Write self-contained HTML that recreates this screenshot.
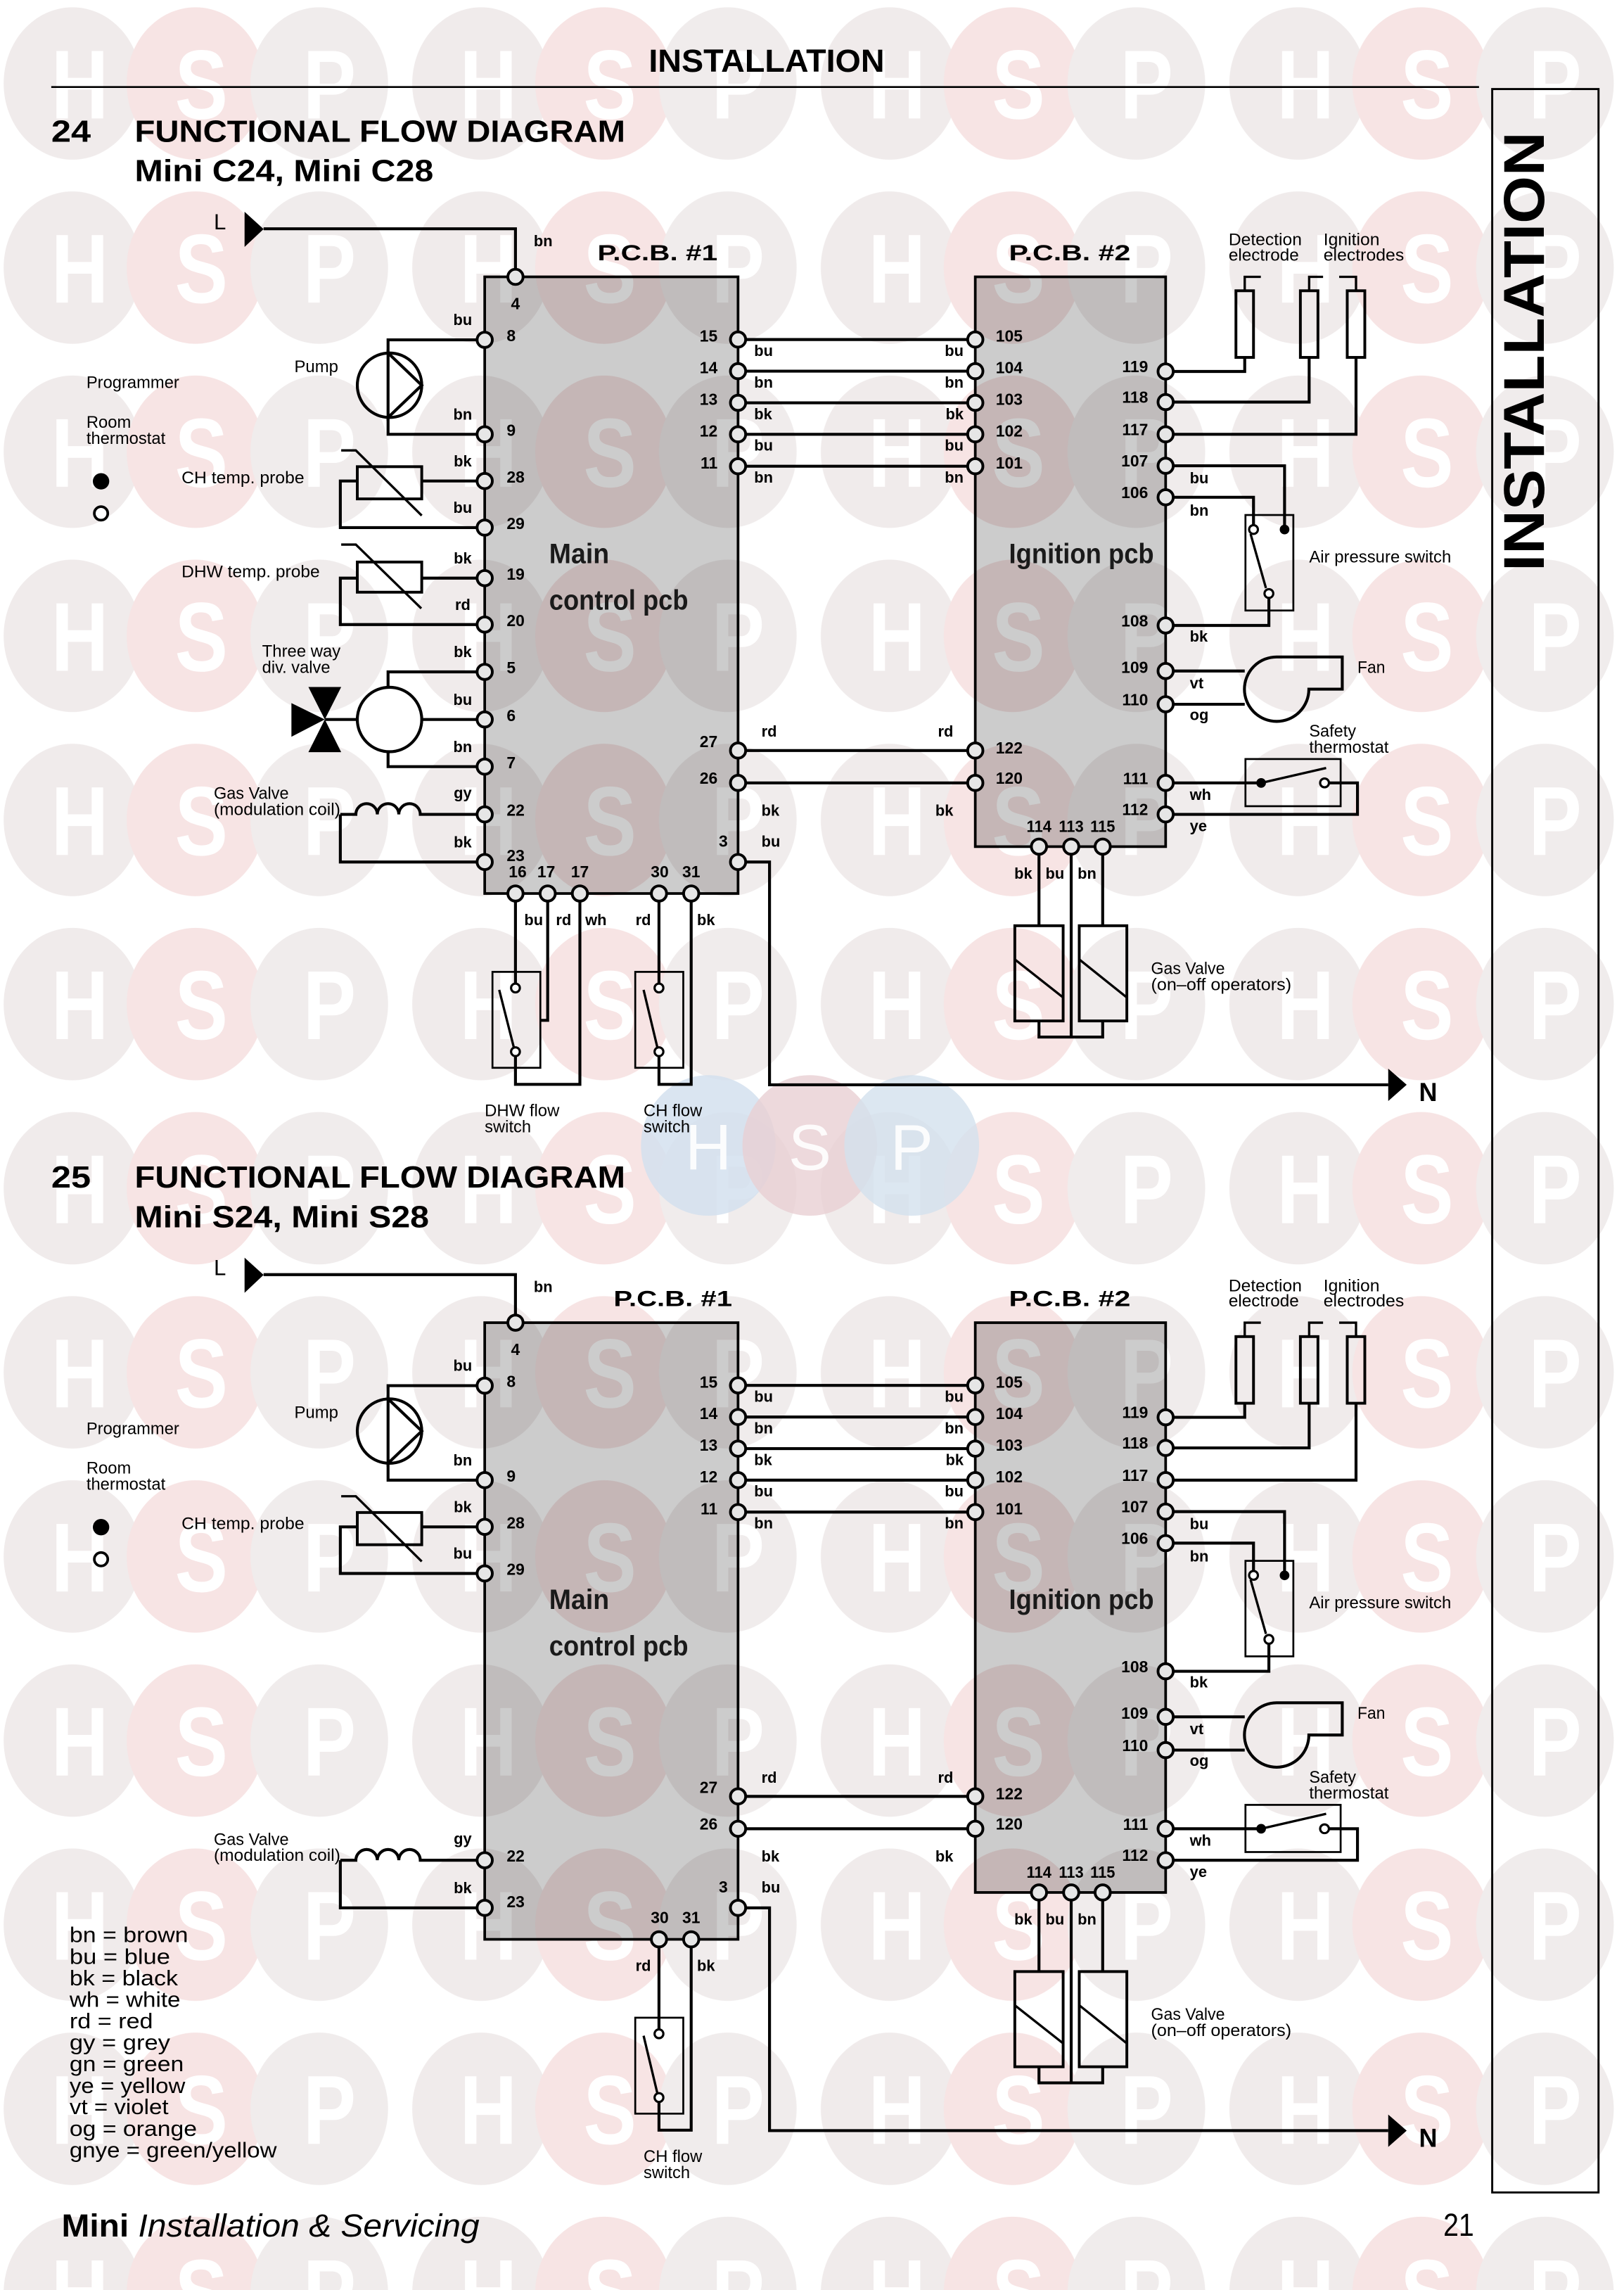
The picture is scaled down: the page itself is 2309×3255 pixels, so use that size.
<!DOCTYPE html>
<html><head><meta charset="utf-8"><title>Functional Flow Diagram</title>
<style>
html,body{margin:0;padding:0;background:#fff}
svg{display:block}
text{font-family:"Liberation Sans",Arial,sans-serif}
.ti{font-size:21px;font-weight:700}
.pc{font-size:15.3px;font-weight:700}
.lb{font-size:10.5px;font-weight:700}
.nm{font-size:11px;font-weight:700}
.ds{font-size:11.5px}
.big{font-size:19px;font-weight:700;fill:#1a1a1a}
.L{font-size:15px}
.N{font-size:18px;font-weight:700}
.lg{font-size:14.7px}
.e{text-anchor:end}.m{text-anchor:middle}
.w{fill:none;stroke:#000;stroke-width:2}
.th{fill:none;stroke:#000;stroke-width:1.6}
.b2{fill:none;stroke:#000;stroke-width:1.9}
.b1{fill:none;stroke:#000;stroke-width:1.3}
.ct{fill:#fff;stroke:#000;stroke-width:1.5}
.tm{fill:#e6e6e6;stroke:#000;stroke-width:1.9}
.pcb{fill:#000;fill-opacity:.2;stroke:#000;stroke-width:1.8}
</style></head>
<body>
<svg xmlns="http://www.w3.org/2000/svg" width="2309" height="3255" viewBox="0 0 1109 1563.4" preserveAspectRatio="none">
<defs>
<pattern id="wm" x="0" y="0" width="279" height="125.7" patternUnits="userSpaceOnUse">
<ellipse cx="49.5" cy="57" rx="47" ry="52" fill="#f0ebeb"/>
<ellipse cx="133.5" cy="57" rx="47" ry="52" fill="#f7e4e4"/>
<ellipse cx="218" cy="57" rx="47" ry="52" fill="#f0ecec"/>
</pattern>
</defs>
<rect width="1109" height="1563.4" fill="#fff"/>
<rect width="1109" height="1563.4" fill="url(#wm)"/>
<g transform="scale(0.81 1)" font-size="67" font-weight="700" fill="#fff" text-anchor="middle">
<text x="67.28 169.75 277.78 411.72 514.19 622.22 756.16 858.63 966.66 1100.6 1203.07 1311.1" y="80.9">HSPHSPHSPHSP</text>
<text x="67.28 169.75 277.78 411.72 514.19 622.22 756.16 858.63 966.66 1100.6 1203.07 1311.1" y="206.6">HSPHSPHSPHSP</text>
<text x="67.28 169.75 277.78 411.72 514.19 622.22 756.16 858.63 966.66 1100.6 1203.07 1311.1" y="332.3">HSPHSPHSPHSP</text>
<text x="67.28 169.75 277.78 411.72 514.19 622.22 756.16 858.63 966.66 1100.6 1203.07 1311.1" y="458">HSPHSPHSPHSP</text>
<text x="67.28 169.75 277.78 411.72 514.19 622.22 756.16 858.63 966.66 1100.6 1203.07 1311.1" y="583.7">HSPHSPHSPHSP</text>
<text x="67.28 169.75 277.78 411.72 514.19 622.22 756.16 858.63 966.66 1100.6 1203.07 1311.1" y="709.4">HSPHSPHSPHSP</text>
<text x="67.28 169.75 277.78 411.72 514.19 622.22 756.16 858.63 966.66 1100.6 1203.07 1311.1" y="835.1">HSPHSPHSPHSP</text>
<text x="67.28 169.75 277.78 411.72 514.19 622.22 756.16 858.63 966.66 1100.6 1203.07 1311.1" y="960.8">HSPHSPHSPHSP</text>
<text x="67.28 169.75 277.78 411.72 514.19 622.22 756.16 858.63 966.66 1100.6 1203.07 1311.1" y="1086.5">HSPHSPHSPHSP</text>
<text x="67.28 169.75 277.78 411.72 514.19 622.22 756.16 858.63 966.66 1100.6 1203.07 1311.1" y="1212.2">HSPHSPHSPHSP</text>
<text x="67.28 169.75 277.78 411.72 514.19 622.22 756.16 858.63 966.66 1100.6 1203.07 1311.1" y="1337.9">HSPHSPHSPHSP</text>
<text x="67.28 169.75 277.78 411.72 514.19 622.22 756.16 858.63 966.66 1100.6 1203.07 1311.1" y="1463.6">HSPHSPHSPHSP</text>
<text x="67.28 169.75 277.78 411.72 514.19 622.22 756.16 858.63 966.66 1100.6 1203.07 1311.1" y="1589.3">HSPHSPHSPHSP</text>
</g>
<!-- blue logo -->
<ellipse cx="483.7" cy="782" rx="46" ry="48" fill="#d3e1ee" opacity="0.85"/>
<ellipse cx="553" cy="782" rx="46" ry="48" fill="#e8cfd3" opacity="0.8"/>
<ellipse cx="622.6" cy="782" rx="46" ry="48" fill="#d3e1ee" opacity="0.8"/>
<text x="483.7 553 622.6" y="798.5" font-size="44" fill="#fff" text-anchor="middle" opacity="0.9">HSP</text>

<!-- header -->
<text x="443" y="49" font-size="22" font-weight="700" textLength="161" lengthAdjust="spacingAndGlyphs">INSTALLATION</text>
<path d="M35 59.4H1010" stroke="#000" stroke-width="1.3"/>
<rect x="1019" y="60.8" width="72.6" height="1436" fill="none" stroke="#000" stroke-width="1.4"/>
<text transform="translate(1054.3 390) rotate(-90)" font-size="39" font-weight="700" textLength="300" lengthAdjust="spacingAndGlyphs">INSTALLATION</text>

<!-- ================= DIAGRAM 1 ================= -->
<g>
<text class="ti" x="35" y="96.8" textLength="27" lengthAdjust="spacingAndGlyphs">24</text>
<text class="ti" x="92" y="96.8" textLength="335" lengthAdjust="spacingAndGlyphs">FUNCTIONAL FLOW DIAGRAM</text>
<text class="ti" x="92" y="123.8" textLength="204" lengthAdjust="spacingAndGlyphs">Mini C24, Mini C28</text>
<text class="pc" x="408" y="177.7" textLength="82" lengthAdjust="spacingAndGlyphs">P.C.B. #1</text>

<text x="146" y="156.6" class="L">L</text>
<polygon points="167,144.6 167,168.6 180,156.4"/>
<text class="lb" x="364.5" y="168">bn</text>
<rect class="pcb" x="331" y="189" width="173" height="421"/>
<rect class="pcb" x="666" y="189" width="130" height="389"/>
<text class="pc" x="689" y="177.7" textLength="83" lengthAdjust="spacingAndGlyphs">P.C.B. #2</text>
<text class="big" x="375" y="384.5" textLength="41" lengthAdjust="spacingAndGlyphs">Main</text>
<text class="big" x="375" y="416.2" textLength="95" lengthAdjust="spacingAndGlyphs">control pcb</text>
<text class="big" x="689" y="384.5" textLength="99" lengthAdjust="spacingAndGlyphs">Ignition pcb</text>
<path class="w" d="M180 156.2H352V189M331 232H265V241M265 285V296.5H331M331 328.4H288M244 328.4H232.4V360.2H331M232.4 556H243a7.33 7.33 0 0 1 14.67 0a7.33 7.33 0 0 1 14.67 0a7.33 7.33 0 0 1 14.67 0H331M232.4 556V588.5H331M504 231.8H666M504 253.4H666M504 275H666M504 296.5H666M504 318.3H666M504 512.4H666M504 534.5H666M504 588.5H525.5V740.6H948M850 244V253.6H796M894 244V274.5H796M926 244V296.5H796M796 318H877.2V361.5M796 339.5H856V358.5M866.5 408.3V427H796M796 458.1H850M796 480.8H850M796 534.5H861M907.5 534.5H927V556H796M709.5 578V632M753 578V632M731.5 578V708M709.5 697V708H753V697M450 610V671.5M450 721V740.3H472V610"/>
<path class="w" d="M265 241L288 263L265 285Z"/>
<circle class="w" cx="266" cy="263" r="22"/>
<path class="w" d="M871.8 448.5H916.6V470.5H893.8A22 22 0 1 1 871.8 448.5"/>
<polygon points="948,729.6 948,751.7 960.6,740.6"/>
<text class="N" x="969" y="751.7" textLength="12.5" lengthAdjust="spacingAndGlyphs">N</text>
<path class="th" d="M233 307.5H243L288 352M850 198.5V189H861M894 198.5V189H903.5M914.5 189H926V198.5M854 364.5L864.5 401.5M861.2 534.5L905.6 524.3M439.5 675.8L449 715.5M693 655L726 681M737 655L769.5 681"/>
<rect class="b2" x="244" y="318.6" width="44" height="22"/>
<rect class="b2" x="844" y="198.5" width="12" height="45.5"/>
<rect class="b2" x="888" y="198.5" width="12" height="45.5"/>
<rect class="b2" x="920" y="198.5" width="12" height="45.5"/>
<rect class="b2" x="693" y="632" width="33" height="65"/>
<rect class="b2" x="737" y="632" width="32.5" height="65"/>
<rect class="b1" x="850.5" y="351.6" width="32.7" height="65.2"/>
<rect class="b1" x="850.5" y="518.2" width="65" height="32.2"/>
<rect class="b1" x="433.8" y="663.5" width="32.8" height="65.5"/>
<circle class="ct" cx="856" cy="361.5" r="3"/>
<circle cx="877.2" cy="361.5" r="3.3"/>
<circle class="ct" cx="866.5" cy="405.2" r="3"/>
<circle cx="861.2" cy="534.5" r="3.3"/>
<circle class="ct" cx="904.5" cy="534.5" r="3"/>
<circle class="ct" cx="450" cy="674.5" r="3"/>
<circle class="ct" cx="450" cy="718" r="3"/>
<circle cx="69" cy="328.6" r="5.6"/>
<circle cx="69" cy="350.5" r="4.6" fill="#fff" stroke="#000" stroke-width="1.8"/>
<g class="tm">
<circle cx="352" cy="189" r="5.2"/>
<circle cx="331" cy="232" r="5.2"/><circle cx="331" cy="296.5" r="5.2"/><circle cx="331" cy="328.4" r="5.2"/><circle cx="331" cy="360.2" r="5.2"/><circle cx="331" cy="556" r="5.2"/><circle cx="331" cy="588.5" r="5.2"/>
<circle cx="504" cy="231.8" r="5.2"/><circle cx="504" cy="253.4" r="5.2"/><circle cx="504" cy="275" r="5.2"/><circle cx="504" cy="296.5" r="5.2"/><circle cx="504" cy="318.3" r="5.2"/><circle cx="504" cy="512.4" r="5.2"/><circle cx="504" cy="534.5" r="5.2"/><circle cx="504" cy="588.5" r="5.2"/>
<circle cx="666" cy="231.8" r="5.2"/><circle cx="666" cy="253.4" r="5.2"/><circle cx="666" cy="275" r="5.2"/><circle cx="666" cy="296.5" r="5.2"/><circle cx="666" cy="318.3" r="5.2"/><circle cx="666" cy="512.4" r="5.2"/><circle cx="666" cy="534.5" r="5.2"/>
<circle cx="796" cy="253.6" r="5.2"/><circle cx="796" cy="274.5" r="5.2"/><circle cx="796" cy="296.5" r="5.2"/><circle cx="796" cy="318" r="5.2"/><circle cx="796" cy="339.5" r="5.2"/><circle cx="796" cy="427" r="5.2"/><circle cx="796" cy="458.1" r="5.2"/><circle cx="796" cy="480.8" r="5.2"/><circle cx="796" cy="534.5" r="5.2"/><circle cx="796" cy="556" r="5.2"/>
<circle cx="709.5" cy="578" r="5.2"/><circle cx="731.5" cy="578" r="5.2"/><circle cx="753" cy="578" r="5.2"/>
<circle cx="450" cy="610" r="5.2"/><circle cx="472" cy="610" r="5.2"/>
</g>
<text class="nm m" x="352" y="211">4</text>
<text class="nm" x="346" y="233">8</text><text class="nm" x="346" y="297.5">9</text><text class="nm" x="346" y="329.4">28</text><text class="nm" x="346" y="361.2">29</text><text class="nm" x="346" y="557">22</text><text class="nm" x="346" y="588">23</text>
<text class="nm e" x="490" y="233.3">15</text><text class="nm e" x="490" y="254.9">14</text><text class="nm e" x="490" y="276.5">13</text><text class="nm e" x="490" y="298">12</text><text class="nm e" x="490" y="319.8">11</text><text class="nm e" x="490" y="510">27</text><text class="nm e" x="490" y="535">26</text><text class="nm e" x="497" y="578">3</text>
<text class="nm" x="680" y="233.3">105</text><text class="nm" x="680" y="254.9">104</text><text class="nm" x="680" y="276.5">103</text><text class="nm" x="680" y="298">102</text><text class="nm" x="680" y="319.8">101</text><text class="nm" x="680" y="514.5">122</text><text class="nm" x="680" y="535">120</text>
<text class="nm e" x="784" y="254.1">119</text><text class="nm e" x="784" y="275">118</text><text class="nm e" x="784" y="297">117</text><text class="nm e" x="784" y="318.5">107</text><text class="nm e" x="784" y="340">106</text><text class="nm e" x="784" y="427.6">108</text><text class="nm e" x="784" y="459.3">109</text><text class="nm e" x="784" y="481.5">110</text><text class="nm e" x="784" y="535.2">111</text><text class="nm e" x="784" y="556.4">112</text>
<text class="nm m" x="709.5" y="568" textLength="17" lengthAdjust="spacingAndGlyphs">114</text><text class="nm m" x="731.5" y="568" textLength="17" lengthAdjust="spacingAndGlyphs">113</text><text class="nm m" x="753" y="568" textLength="17" lengthAdjust="spacingAndGlyphs">115</text>
<text class="nm m" x="450.5" y="599">30</text><text class="nm m" x="472" y="599">31</text>
<text class="lb m" x="316" y="222">bu</text><text class="lb m" x="316" y="286.5">bn</text><text class="lb m" x="316" y="318.4">bk</text><text class="lb m" x="316" y="350.2">bu</text><text class="lb m" x="316" y="545">gy</text><text class="lb m" x="316" y="578.5">bk</text>
<text class="lb" x="515" y="243">bu</text><text class="lb" x="515" y="264.6">bn</text><text class="lb" x="515" y="286.2">bk</text><text class="lb" x="515" y="307.7">bu</text><text class="lb" x="515" y="329.5">bn</text>
<text class="lb" x="520" y="503">rd</text><text class="lb" x="520" y="557">bk</text><text class="lb" x="520" y="578">bu</text>
<text class="lb e" x="658" y="243">bu</text><text class="lb e" x="658" y="264.6">bn</text><text class="lb e" x="658" y="286.2">bk</text><text class="lb e" x="658" y="307.7">bu</text><text class="lb e" x="658" y="329.5">bn</text>
<text class="lb e" x="651" y="503">rd</text><text class="lb e" x="651" y="557">bk</text>
<text class="lb" x="812.5" y="330">bu</text><text class="lb" x="812.5" y="352">bn</text><text class="lb" x="812.5" y="438">bk</text><text class="lb" x="812.5" y="470">vt</text><text class="lb" x="812.5" y="491.5">og</text><text class="lb" x="812.5" y="546">wh</text><text class="lb" x="812.5" y="567.5">ye</text>
<text class="lb m" x="698.8" y="600">bk</text><text class="lb m" x="720.4" y="600">bu</text><text class="lb m" x="742.3" y="600">bn</text>
<text class="lb" x="434" y="631.5">rd</text><text class="lb" x="476" y="631.5">bk</text>
<text class="ds" x="59" y="265" textLength="63.4" lengthAdjust="spacingAndGlyphs">Programmer</text>
<text class="ds" x="59" y="292" textLength="30.5" lengthAdjust="spacingAndGlyphs">Room</text>
<text class="ds" x="59" y="303" textLength="54" lengthAdjust="spacingAndGlyphs">thermostat</text>
<text class="ds" x="201" y="254" textLength="30" lengthAdjust="spacingAndGlyphs">Pump</text>
<text class="ds" x="124" y="330" textLength="83.8" lengthAdjust="spacingAndGlyphs">CH temp. probe</text>
<text class="ds" x="146" y="545.5" textLength="51.2" lengthAdjust="spacingAndGlyphs">Gas Valve</text>
<text class="ds" x="146" y="556.5" textLength="86.4" lengthAdjust="spacingAndGlyphs">(modulation coil)</text>
<text class="ds" x="839" y="167.5" textLength="50" lengthAdjust="spacingAndGlyphs">Detection</text>
<text class="ds" x="839" y="178" textLength="48" lengthAdjust="spacingAndGlyphs">electrode</text>
<text class="ds" x="903.8" y="167.5" textLength="38.3" lengthAdjust="spacingAndGlyphs">Ignition</text>
<text class="ds" x="903.8" y="178" textLength="55" lengthAdjust="spacingAndGlyphs">electrodes</text>
<text class="ds" x="894" y="384" textLength="97" lengthAdjust="spacingAndGlyphs">Air pressure switch</text>
<text class="ds" x="927" y="459.5" textLength="18.9" lengthAdjust="spacingAndGlyphs">Fan</text>
<text class="ds" x="894" y="503" textLength="32" lengthAdjust="spacingAndGlyphs">Safety</text>
<text class="ds" x="894" y="514" textLength="54.3" lengthAdjust="spacingAndGlyphs">thermostat</text>
<text class="ds" x="786" y="665" textLength="50.4" lengthAdjust="spacingAndGlyphs">Gas Valve</text>
<text class="ds" x="786" y="676" textLength="95.9" lengthAdjust="spacingAndGlyphs">(on–off operators)</text>
<text class="ds" x="439.5" y="762" textLength="40" lengthAdjust="spacingAndGlyphs">CH flow</text>
<text class="ds" x="439.5" y="773" textLength="31.7" lengthAdjust="spacingAndGlyphs">switch</text>

<!-- diagram 1 only -->
<path class="w" d="M331 394.7H288M244 394.7H232.4V426.4H331M331 458.7H265V469.2M288 491.2H331M265 513.2V523.4H331M222 491.2H244M352 610V671.5M374 610V696.6H369M352 721V740.3H396V610"/>
<path class="th" d="M233 371.8H243L287.7 415.4M340.9 675.8L351 715.5"/>
<rect class="b2" x="244" y="383.7" width="44" height="20.6"/>
<rect class="b1" x="336.3" y="663.5" width="32.7" height="65.5"/>
<circle class="w" cx="266" cy="491.2" r="22"/>
<polygon points="210.6,469 233,469 221.8,491.2"/>
<polygon points="210.6,513.5 233,513.5 221.8,491.2"/>
<polygon points="199,480 199,503 221.8,491.2"/>
<circle class="ct" cx="352" cy="674.5" r="3"/>
<circle class="ct" cx="352" cy="718" r="3"/>
<g class="tm">
<circle cx="331" cy="394.7" r="5.2"/><circle cx="331" cy="426.4" r="5.2"/><circle cx="331" cy="458.7" r="5.2"/><circle cx="331" cy="491.2" r="5.2"/><circle cx="331" cy="523.4" r="5.2"/>
<circle cx="352" cy="610" r="5.2"/><circle cx="374" cy="610" r="5.2"/><circle cx="396" cy="610" r="5.2"/>
</g>
<text class="nm" x="346" y="395.7">19</text><text class="nm" x="346" y="427.4">20</text><text class="nm" x="346" y="459.7">5</text><text class="nm" x="346" y="492.2">6</text><text class="nm" x="346" y="524.4">7</text>
<text class="nm m" x="353.5" y="599">16</text><text class="nm m" x="373" y="599">17</text><text class="nm m" x="396" y="599">17</text>
<text class="lb m" x="316" y="384.7">bk</text><text class="lb m" x="316" y="416.4">rd</text><text class="lb m" x="316" y="448.7">bk</text><text class="lb m" x="316" y="481.2">bu</text><text class="lb m" x="316" y="513.4">bn</text>
<text class="lb" x="358" y="631.5">bu</text><text class="lb" x="379.6" y="631.5">rd</text><text class="lb" x="399.7" y="631.5">wh</text>
<text class="ds" x="124" y="394" textLength="94.4" lengthAdjust="spacingAndGlyphs">DHW temp. probe</text>
<text class="ds" x="179" y="448.3" textLength="53.6" lengthAdjust="spacingAndGlyphs">Three way</text>
<text class="ds" x="179" y="459.3" textLength="46.5" lengthAdjust="spacingAndGlyphs">div. valve</text>
<text class="ds" x="331" y="762" textLength="51" lengthAdjust="spacingAndGlyphs">DHW flow</text>
<text class="ds" x="331" y="773" textLength="31.7" lengthAdjust="spacingAndGlyphs">switch</text>
</g>

<!-- ================= DIAGRAM 2 ================= -->
<g transform="translate(0 714)">
<text class="ti" x="35" y="96.8" textLength="27" lengthAdjust="spacingAndGlyphs">25</text>
<text class="ti" x="92" y="96.8" textLength="335" lengthAdjust="spacingAndGlyphs">FUNCTIONAL FLOW DIAGRAM</text>
<text class="ti" x="92" y="123.8" textLength="201" lengthAdjust="spacingAndGlyphs">Mini S24, Mini S28</text>
<text class="pc" x="419" y="177.7" textLength="81" lengthAdjust="spacingAndGlyphs">P.C.B. #1</text>

<text x="146" y="156.6" class="L">L</text>
<polygon points="167,144.6 167,168.6 180,156.4"/>
<text class="lb" x="364.5" y="168">bn</text>
<rect class="pcb" x="331" y="189" width="173" height="421"/>
<rect class="pcb" x="666" y="189" width="130" height="389"/>
<text class="pc" x="689" y="177.7" textLength="83" lengthAdjust="spacingAndGlyphs">P.C.B. #2</text>
<text class="big" x="375" y="384.5" textLength="41" lengthAdjust="spacingAndGlyphs">Main</text>
<text class="big" x="375" y="416.2" textLength="95" lengthAdjust="spacingAndGlyphs">control pcb</text>
<text class="big" x="689" y="384.5" textLength="99" lengthAdjust="spacingAndGlyphs">Ignition pcb</text>
<path class="w" d="M180 156.2H352V189M331 232H265V241M265 285V296.5H331M331 328.4H288M244 328.4H232.4V360.2H331M232.4 556H243a7.33 7.33 0 0 1 14.67 0a7.33 7.33 0 0 1 14.67 0a7.33 7.33 0 0 1 14.67 0H331M232.4 556V588.5H331M504 231.8H666M504 253.4H666M504 275H666M504 296.5H666M504 318.3H666M504 512.4H666M504 534.5H666M504 588.5H525.5V740.6H948M850 244V253.6H796M894 244V274.5H796M926 244V296.5H796M796 318H877.2V361.5M796 339.5H856V358.5M866.5 408.3V427H796M796 458.1H850M796 480.8H850M796 534.5H861M907.5 534.5H927V556H796M709.5 578V632M753 578V632M731.5 578V708M709.5 697V708H753V697M450 610V671.5M450 721V740.3H472V610"/>
<path class="w" d="M265 241L288 263L265 285Z"/>
<circle class="w" cx="266" cy="263" r="22"/>
<path class="w" d="M871.8 448.5H916.6V470.5H893.8A22 22 0 1 1 871.8 448.5"/>
<polygon points="948,729.6 948,751.7 960.6,740.6"/>
<text class="N" x="969" y="751.7" textLength="12.5" lengthAdjust="spacingAndGlyphs">N</text>
<path class="th" d="M233 307.5H243L288 352M850 198.5V189H861M894 198.5V189H903.5M914.5 189H926V198.5M854 364.5L864.5 401.5M861.2 534.5L905.6 524.3M439.5 675.8L449 715.5M693 655L726 681M737 655L769.5 681"/>
<rect class="b2" x="244" y="318.6" width="44" height="22"/>
<rect class="b2" x="844" y="198.5" width="12" height="45.5"/>
<rect class="b2" x="888" y="198.5" width="12" height="45.5"/>
<rect class="b2" x="920" y="198.5" width="12" height="45.5"/>
<rect class="b2" x="693" y="632" width="33" height="65"/>
<rect class="b2" x="737" y="632" width="32.5" height="65"/>
<rect class="b1" x="850.5" y="351.6" width="32.7" height="65.2"/>
<rect class="b1" x="850.5" y="518.2" width="65" height="32.2"/>
<rect class="b1" x="433.8" y="663.5" width="32.8" height="65.5"/>
<circle class="ct" cx="856" cy="361.5" r="3"/>
<circle cx="877.2" cy="361.5" r="3.3"/>
<circle class="ct" cx="866.5" cy="405.2" r="3"/>
<circle cx="861.2" cy="534.5" r="3.3"/>
<circle class="ct" cx="904.5" cy="534.5" r="3"/>
<circle class="ct" cx="450" cy="674.5" r="3"/>
<circle class="ct" cx="450" cy="718" r="3"/>
<circle cx="69" cy="328.6" r="5.6"/>
<circle cx="69" cy="350.5" r="4.6" fill="#fff" stroke="#000" stroke-width="1.8"/>
<g class="tm">
<circle cx="352" cy="189" r="5.2"/>
<circle cx="331" cy="232" r="5.2"/><circle cx="331" cy="296.5" r="5.2"/><circle cx="331" cy="328.4" r="5.2"/><circle cx="331" cy="360.2" r="5.2"/><circle cx="331" cy="556" r="5.2"/><circle cx="331" cy="588.5" r="5.2"/>
<circle cx="504" cy="231.8" r="5.2"/><circle cx="504" cy="253.4" r="5.2"/><circle cx="504" cy="275" r="5.2"/><circle cx="504" cy="296.5" r="5.2"/><circle cx="504" cy="318.3" r="5.2"/><circle cx="504" cy="512.4" r="5.2"/><circle cx="504" cy="534.5" r="5.2"/><circle cx="504" cy="588.5" r="5.2"/>
<circle cx="666" cy="231.8" r="5.2"/><circle cx="666" cy="253.4" r="5.2"/><circle cx="666" cy="275" r="5.2"/><circle cx="666" cy="296.5" r="5.2"/><circle cx="666" cy="318.3" r="5.2"/><circle cx="666" cy="512.4" r="5.2"/><circle cx="666" cy="534.5" r="5.2"/>
<circle cx="796" cy="253.6" r="5.2"/><circle cx="796" cy="274.5" r="5.2"/><circle cx="796" cy="296.5" r="5.2"/><circle cx="796" cy="318" r="5.2"/><circle cx="796" cy="339.5" r="5.2"/><circle cx="796" cy="427" r="5.2"/><circle cx="796" cy="458.1" r="5.2"/><circle cx="796" cy="480.8" r="5.2"/><circle cx="796" cy="534.5" r="5.2"/><circle cx="796" cy="556" r="5.2"/>
<circle cx="709.5" cy="578" r="5.2"/><circle cx="731.5" cy="578" r="5.2"/><circle cx="753" cy="578" r="5.2"/>
<circle cx="450" cy="610" r="5.2"/><circle cx="472" cy="610" r="5.2"/>
</g>
<text class="nm m" x="352" y="211">4</text>
<text class="nm" x="346" y="233">8</text><text class="nm" x="346" y="297.5">9</text><text class="nm" x="346" y="329.4">28</text><text class="nm" x="346" y="361.2">29</text><text class="nm" x="346" y="557">22</text><text class="nm" x="346" y="588">23</text>
<text class="nm e" x="490" y="233.3">15</text><text class="nm e" x="490" y="254.9">14</text><text class="nm e" x="490" y="276.5">13</text><text class="nm e" x="490" y="298">12</text><text class="nm e" x="490" y="319.8">11</text><text class="nm e" x="490" y="510">27</text><text class="nm e" x="490" y="535">26</text><text class="nm e" x="497" y="578">3</text>
<text class="nm" x="680" y="233.3">105</text><text class="nm" x="680" y="254.9">104</text><text class="nm" x="680" y="276.5">103</text><text class="nm" x="680" y="298">102</text><text class="nm" x="680" y="319.8">101</text><text class="nm" x="680" y="514.5">122</text><text class="nm" x="680" y="535">120</text>
<text class="nm e" x="784" y="254.1">119</text><text class="nm e" x="784" y="275">118</text><text class="nm e" x="784" y="297">117</text><text class="nm e" x="784" y="318.5">107</text><text class="nm e" x="784" y="340">106</text><text class="nm e" x="784" y="427.6">108</text><text class="nm e" x="784" y="459.3">109</text><text class="nm e" x="784" y="481.5">110</text><text class="nm e" x="784" y="535.2">111</text><text class="nm e" x="784" y="556.4">112</text>
<text class="nm m" x="709.5" y="568" textLength="17" lengthAdjust="spacingAndGlyphs">114</text><text class="nm m" x="731.5" y="568" textLength="17" lengthAdjust="spacingAndGlyphs">113</text><text class="nm m" x="753" y="568" textLength="17" lengthAdjust="spacingAndGlyphs">115</text>
<text class="nm m" x="450.5" y="599">30</text><text class="nm m" x="472" y="599">31</text>
<text class="lb m" x="316" y="222">bu</text><text class="lb m" x="316" y="286.5">bn</text><text class="lb m" x="316" y="318.4">bk</text><text class="lb m" x="316" y="350.2">bu</text><text class="lb m" x="316" y="545">gy</text><text class="lb m" x="316" y="578.5">bk</text>
<text class="lb" x="515" y="243">bu</text><text class="lb" x="515" y="264.6">bn</text><text class="lb" x="515" y="286.2">bk</text><text class="lb" x="515" y="307.7">bu</text><text class="lb" x="515" y="329.5">bn</text>
<text class="lb" x="520" y="503">rd</text><text class="lb" x="520" y="557">bk</text><text class="lb" x="520" y="578">bu</text>
<text class="lb e" x="658" y="243">bu</text><text class="lb e" x="658" y="264.6">bn</text><text class="lb e" x="658" y="286.2">bk</text><text class="lb e" x="658" y="307.7">bu</text><text class="lb e" x="658" y="329.5">bn</text>
<text class="lb e" x="651" y="503">rd</text><text class="lb e" x="651" y="557">bk</text>
<text class="lb" x="812.5" y="330">bu</text><text class="lb" x="812.5" y="352">bn</text><text class="lb" x="812.5" y="438">bk</text><text class="lb" x="812.5" y="470">vt</text><text class="lb" x="812.5" y="491.5">og</text><text class="lb" x="812.5" y="546">wh</text><text class="lb" x="812.5" y="567.5">ye</text>
<text class="lb m" x="698.8" y="600">bk</text><text class="lb m" x="720.4" y="600">bu</text><text class="lb m" x="742.3" y="600">bn</text>
<text class="lb" x="434" y="631.5">rd</text><text class="lb" x="476" y="631.5">bk</text>
<text class="ds" x="59" y="265" textLength="63.4" lengthAdjust="spacingAndGlyphs">Programmer</text>
<text class="ds" x="59" y="292" textLength="30.5" lengthAdjust="spacingAndGlyphs">Room</text>
<text class="ds" x="59" y="303" textLength="54" lengthAdjust="spacingAndGlyphs">thermostat</text>
<text class="ds" x="201" y="254" textLength="30" lengthAdjust="spacingAndGlyphs">Pump</text>
<text class="ds" x="124" y="330" textLength="83.8" lengthAdjust="spacingAndGlyphs">CH temp. probe</text>
<text class="ds" x="146" y="545.5" textLength="51.2" lengthAdjust="spacingAndGlyphs">Gas Valve</text>
<text class="ds" x="146" y="556.5" textLength="86.4" lengthAdjust="spacingAndGlyphs">(modulation coil)</text>
<text class="ds" x="839" y="167.5" textLength="50" lengthAdjust="spacingAndGlyphs">Detection</text>
<text class="ds" x="839" y="178" textLength="48" lengthAdjust="spacingAndGlyphs">electrode</text>
<text class="ds" x="903.8" y="167.5" textLength="38.3" lengthAdjust="spacingAndGlyphs">Ignition</text>
<text class="ds" x="903.8" y="178" textLength="55" lengthAdjust="spacingAndGlyphs">electrodes</text>
<text class="ds" x="894" y="384" textLength="97" lengthAdjust="spacingAndGlyphs">Air pressure switch</text>
<text class="ds" x="927" y="459.5" textLength="18.9" lengthAdjust="spacingAndGlyphs">Fan</text>
<text class="ds" x="894" y="503" textLength="32" lengthAdjust="spacingAndGlyphs">Safety</text>
<text class="ds" x="894" y="514" textLength="54.3" lengthAdjust="spacingAndGlyphs">thermostat</text>
<text class="ds" x="786" y="665" textLength="50.4" lengthAdjust="spacingAndGlyphs">Gas Valve</text>
<text class="ds" x="786" y="676" textLength="95.9" lengthAdjust="spacingAndGlyphs">(on–off operators)</text>
<text class="ds" x="439.5" y="762" textLength="40" lengthAdjust="spacingAndGlyphs">CH flow</text>
<text class="ds" x="439.5" y="773" textLength="31.7" lengthAdjust="spacingAndGlyphs">switch</text>
</g>

<!-- legend -->
<g>
<text class="lg" x="47.5" y="1326" textLength="81" lengthAdjust="spacingAndGlyphs">bn = brown</text>
<text class="lg" x="47.5" y="1340.7" textLength="68.7" lengthAdjust="spacingAndGlyphs">bu = blue</text>
<text class="lg" x="47.5" y="1355.4" textLength="74" lengthAdjust="spacingAndGlyphs">bk = black</text>
<text class="lg" x="47.5" y="1370" textLength="75.7" lengthAdjust="spacingAndGlyphs">wh = white</text>
<text class="lg" x="47.5" y="1384.7" textLength="57" lengthAdjust="spacingAndGlyphs">rd = red</text>
<text class="lg" x="47.5" y="1399.4" textLength="68.7" lengthAdjust="spacingAndGlyphs">gy = grey</text>
<text class="lg" x="47.5" y="1414.1" textLength="78" lengthAdjust="spacingAndGlyphs">gn = green</text>
<text class="lg" x="47.5" y="1428.8" textLength="79" lengthAdjust="spacingAndGlyphs">ye = yellow</text>
<text class="lg" x="47.5" y="1443.4" textLength="67.6" lengthAdjust="spacingAndGlyphs">vt = violet</text>
<text class="lg" x="47.5" y="1458.1" textLength="87" lengthAdjust="spacingAndGlyphs">og = orange</text>
<text class="lg" x="47.5" y="1472.8" textLength="141.5" lengthAdjust="spacingAndGlyphs">gnye = green/yellow</text>
</g>

<!-- footer -->
<text x="42" y="1527" font-size="22" font-weight="700" textLength="46" lengthAdjust="spacingAndGlyphs">Mini</text>
<text x="94.4" y="1527" font-size="22" font-style="italic" textLength="233" lengthAdjust="spacingAndGlyphs">Installation &amp; Servicing</text>
<text x="985.6" y="1526.5" font-size="22" textLength="21" lengthAdjust="spacingAndGlyphs">21</text>
</svg>
</body></html>
